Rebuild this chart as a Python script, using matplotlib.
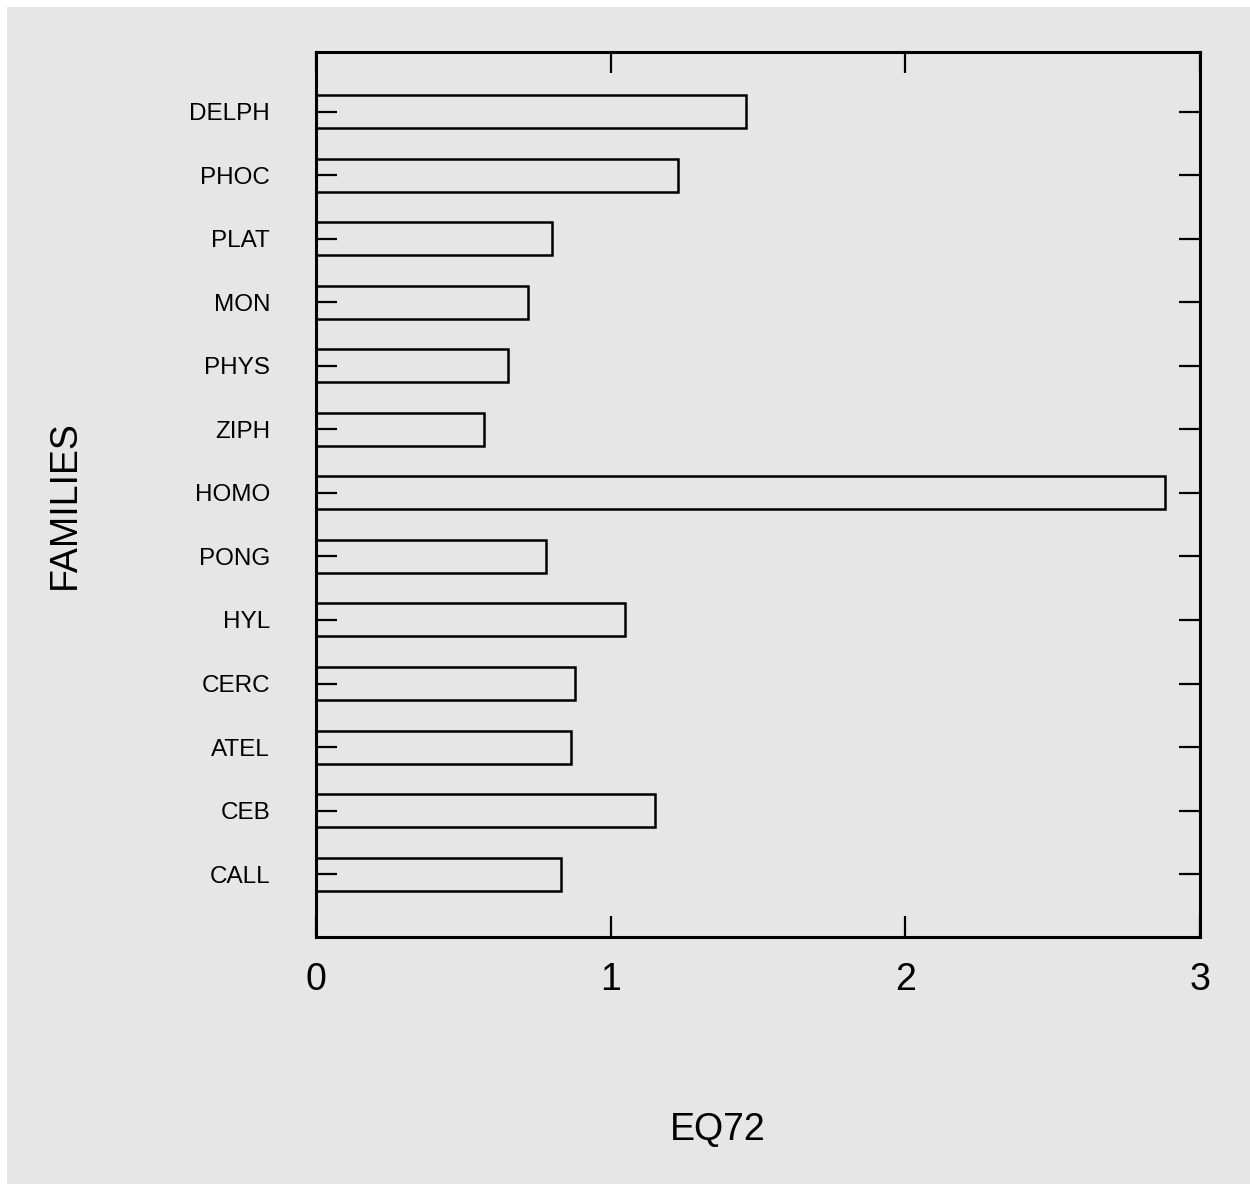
import matplotlib.pyplot as plt
from matplotlib.patches import Rectangle

plt.rcParams["font.family"] = ["Liberation Sans", "DejaVu Sans"]

families = ["DELPH", "PHOC", "PLAT", "MON", "PHYS", "ZIPH", "HOMO",
            "PONG", "HYL", "CERC", "ATEL", "CEB", "CALL"]
eq72 = [1.46, 1.23, 0.80, 0.72, 0.65, 0.57, 2.88,
        0.78, 1.05, 0.88, 0.865, 1.15, 0.83]
x_ticks = [0, 1, 2, 3]

BG = "#e6e6e6"

fig = plt.figure(figsize=(12.5, 11.84), dpi=100)
fig.patch.set_facecolor("white")
# grey panel, white strip on top and left edges
fig.patches.append(Rectangle((7 / 1250, 0), 1 - 7 / 1250, 1 - 7 / 1184,
                             transform=fig.transFigure, facecolor=BG,
                             edgecolor="none", zorder=-10))

ax = fig.add_axes([316 / 1250, 1 - 937 / 1184, 884 / 1250, 885 / 1184])
ax.set_facecolor(BG)

ypos = list(range(len(families)))[::-1]
ax.barh(ypos, eq72, height=0.52, facecolor=BG, edgecolor="black",
        linewidth=1.8, zorder=1)

ax.set_xlim(0, 3)
ax.set_ylim(-0.99, 12.94)
ax.set_xticks(x_ticks)
ax.set_xticklabels([str(v) for v in x_ticks], fontsize=27)
ax.set_yticks(ypos)
ax.set_yticklabels(families, fontsize=17.5)

for s in ax.spines.values():
    s.set_linewidth(2.2)

ax.tick_params(axis="y", direction="in", length=15, width=1.6,
               right=True, pad=33)
ax.tick_params(axis="x", direction="in", length=15, width=1.6,
               top=True, pad=18)

fig.text(718 / 1250, 1 - 1130 / 1184, "EQ72", fontsize=27,
         ha="center", va="center")
fig.text(65 / 1250, 1 - 505 / 1184, "FAMILIES", fontsize=27,
         rotation=90, ha="center", va="center")

fig.savefig("out.png", dpi=100, facecolor=fig.get_facecolor())
